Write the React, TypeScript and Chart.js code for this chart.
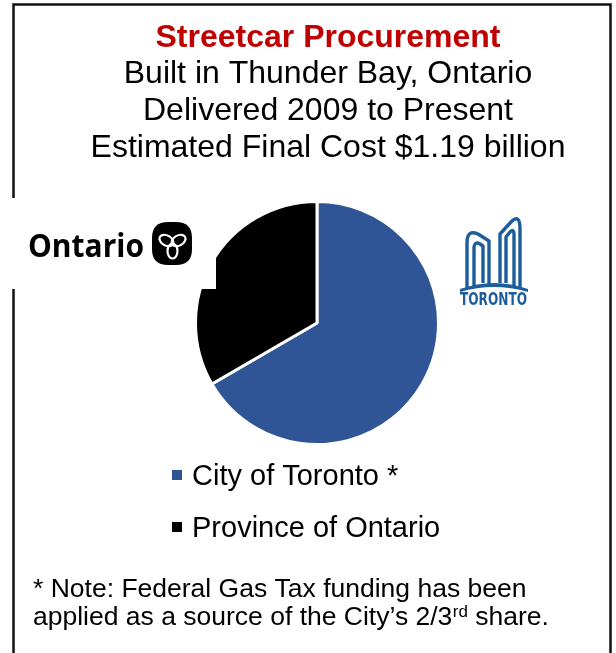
import React, { useEffect, useRef } from "react";
import { Chart, registerables } from "chart.js";

Chart.register(...registerables);

// ---- data ----
const categories = ["City of Toronto *", "Province of Ontario"];
const costShares = [0.793, 0.397]; // $ billions (2/3 and 1/3 of $1.19 billion)
const sliceColors = ["#2F5597", "#000000"];

const headline = "Streetcar Procurement";
const subtitleLines = [
  "Built in Thunder Bay, Ontario",
  "Delivered 2009 to Present",
  "Estimated Final Cost $1.19 billion",
];
const noteLine1 = "* Note: Federal Gas Tax funding has been";
const noteLine2 = ["applied as a source of the City\u2019s 2/3", "rd", " share."];
const ontarioWordmark = "Ontario";
const torontoWordmark = "TORONTO";

const SANS = '"Liberation Sans", Arial, Helvetica, sans-serif';

function drawOntarioLogo(ctx: CanvasRenderingContext2D) {
  ctx.save();
  // white backing of the logo image (covers the frame and pie edge)
  ctx.fillStyle = "#ffffff";
  ctx.fillRect(0, 198, 216, 91);
  ctx.fillStyle = "#000000";
  ctx.font = 'bold 32px "Open Sans", "DejaVu Sans", sans-serif';
  ctx.textAlign = "left";
  ctx.textBaseline = "alphabetic";
  ctx.fillText(ontarioWordmark, 28, 257, 116);
  // trillium badge
  ctx.beginPath();
  const x = 152, y = 222, w = 40, h = 43, r = 16;
  ctx.moveTo(x + r, y);
  ctx.lineTo(x + w - r, y);
  ctx.quadraticCurveTo(x + w, y, x + w, y + r);
  ctx.lineTo(x + w, y + h - r);
  ctx.quadraticCurveTo(x + w, y + h, x + w - r, y + h);
  ctx.lineTo(x + r, y + h);
  ctx.quadraticCurveTo(x, y + h, x, y + h - r);
  ctx.lineTo(x, y + r);
  ctx.quadraticCurveTo(x, y, x + r, y);
  ctx.closePath();
  ctx.fill();
  ctx.strokeStyle = "#ffffff";
  ctx.lineWidth = 2.2;
  const cx = 172.5, cy = 244;
  [-150, -30, 90].forEach((deg) => {
    const a = (deg * Math.PI) / 180;
    ctx.beginPath();
    ctx.ellipse(cx + 7 * Math.cos(a), cy + 7 * Math.sin(a), 7.5, 5, a, 0, Math.PI * 2);
    ctx.stroke();
  });
  ctx.restore();
}

function drawTorontoLogo(ctx: CanvasRenderingContext2D) {
  const blue = "#1D5D9B";
  ctx.save();
  ctx.strokeStyle = blue;
  ctx.fillStyle = blue;
  ctx.lineWidth = 3.4;
  ctx.lineJoin = "round";
  // left tower outer
  ctx.beginPath();
  ctx.moveTo(467, 288);
  ctx.lineTo(467, 243);
  ctx.quadraticCurveTo(467, 229, 478, 234);
  ctx.lineTo(489, 241);
  ctx.lineTo(489, 284);
  ctx.stroke();
  // left tower inner
  ctx.beginPath();
  ctx.moveTo(474, 286);
  ctx.lineTo(474, 247);
  ctx.quadraticCurveTo(475, 241, 480, 244);
  ctx.lineTo(483, 246);
  ctx.lineTo(483, 283);
  ctx.stroke();
  // right tower outer
  ctx.beginPath();
  ctx.moveTo(500, 283);
  ctx.lineTo(500, 234);
  ctx.lineTo(511, 222);
  ctx.quadraticCurveTo(520, 213, 520, 229);
  ctx.lineTo(520, 288);
  ctx.stroke();
  // right tower inner
  ctx.beginPath();
  ctx.moveTo(506, 283);
  ctx.lineTo(506, 237);
  ctx.lineTo(510, 232);
  ctx.quadraticCurveTo(514, 228, 514, 235);
  ctx.lineTo(514, 286);
  ctx.stroke();
  // podium swoosh
  ctx.beginPath();
  ctx.moveTo(460, 289);
  ctx.quadraticCurveTo(494, 277, 528, 289);
  ctx.lineTo(528, 292);
  ctx.quadraticCurveTo(494, 282, 460, 292);
  ctx.closePath();
  ctx.fill();
  ctx.save();
  ctx.translate(460, 305);
  ctx.scale(1, 1.2);
  ctx.font = 'bold 15px "Liberation Sans Narrow", "DejaVu Sans Condensed", sans-serif';
  ctx.textAlign = "left";
  ctx.textBaseline = "alphabetic";
  ctx.fillText(torontoWordmark, 0, 0, 67);
  ctx.restore();
  ctx.restore();
}

const decorPlugin = {
  id: "decor",
  beforeDraw(chart: any) {
    const ctx: CanvasRenderingContext2D = chart.ctx;
    ctx.save();
    ctx.fillStyle = "#ffffff";
    ctx.fillRect(0, 0, chart.width, chart.height);
    ctx.strokeStyle = "#111111";
    ctx.lineWidth = 2.5;
    ctx.strokeRect(13.5, 4.5, 597, 720);
    ctx.restore();
  },
  afterDraw(chart: any) {
    const ctx: CanvasRenderingContext2D = chart.ctx;
    ctx.save();
    ctx.textBaseline = "alphabetic";
    // header
    ctx.textAlign = "center";
    ctx.fillStyle = "#C00000";
    ctx.font = `bold 32px ${SANS}`;
    ctx.fillText(headline, 328, 47);
    ctx.fillStyle = "#000000";
    ctx.font = `32px ${SANS}`;
    subtitleLines.forEach((line, i) => {
      ctx.fillText(line, 328, 83 + i * 37);
    });
    ctx.restore();

    drawOntarioLogo(ctx);
    drawTorontoLogo(ctx);

    // legend (from chart data)
    ctx.save();
    const labels: string[] = chart.data.labels;
    const colors: string[] = chart.data.datasets[0].backgroundColor;
    ctx.font = `29px ${SANS}`;
    ctx.textAlign = "left";
    ctx.textBaseline = "alphabetic";
    labels.forEach((label, i) => {
      const base = 485 + i * 52;
      ctx.fillStyle = colors[i];
      ctx.fillRect(172, base - 15, 10, 10);
      ctx.fillStyle = "#000000";
      ctx.fillText(label, 192, base);
    });

    // note
    ctx.font = `26.5px ${SANS}`;
    ctx.fillText(noteLine1, 33, 597);
    let x = 33;
    ctx.fillText(noteLine2[0], x, 625);
    x += ctx.measureText(noteLine2[0]).width;
    ctx.font = `17px ${SANS}`;
    ctx.fillText(noteLine2[1], x + 0.5, 617);
    x += ctx.measureText(noteLine2[1]).width + 0.5;
    ctx.font = `26.5px ${SANS}`;
    ctx.fillText(noteLine2[2], x, 625);
    ctx.restore();
  },
};

export default function App() {
  const ref = useRef<HTMLCanvasElement>(null);
  useEffect(() => {
    const chart = new Chart(ref.current as HTMLCanvasElement, {
      type: "pie",
      data: {
        labels: categories,
        datasets: [
          {
            data: costShares,
            backgroundColor: sliceColors,
            borderColor: "#ffffff",
            borderWidth: 3,
            radius: 121.5,
          } as any,
        ],
      },
      options: {
        responsive: false,
        animation: false,
        events: [],
        layout: { padding: { left: 18, right: 0, top: 190, bottom: 197 } },
        plugins: {
          legend: { display: false },
          tooltip: { enabled: false },
          title: { display: false },
        },
      },
      plugins: [decorPlugin],
    });
    return () => chart.destroy();
  }, []);
  return (
    <div style={{ position: "absolute", left: 0, top: 0, width: 616, height: 653, background: "#fff" }}>
      <canvas ref={ref} width={616} height={653} style={{ display: "block" }} />
    </div>
  );
}
